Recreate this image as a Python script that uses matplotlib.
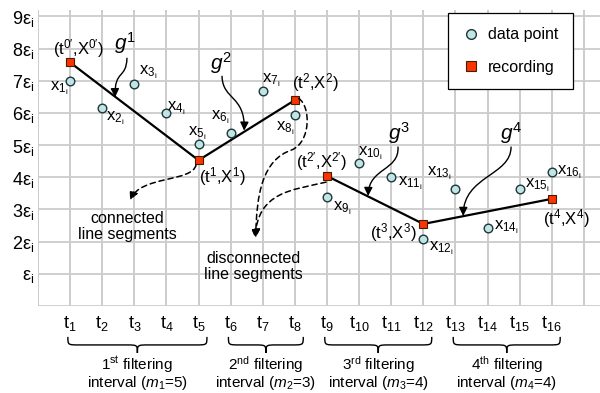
import matplotlib
matplotlib.use("Agg")
import matplotlib.pyplot as plt
from matplotlib.path import Path
from matplotlib.patches import FancyArrowPatch, PathPatch
from matplotlib.lines import Line2D

plt.rcParams['font.family'] = ['Liberation Sans', 'DejaVu Sans']
plt.rcParams['mathtext.fontset'] = 'custom'
plt.rcParams['mathtext.rm'] = 'Liberation Sans'
plt.rcParams['mathtext.it'] = 'Liberation Sans:italic'
plt.rcParams['mathtext.bf'] = 'Liberation Sans:bold'

# ---- data ----
t_idx = list(range(1, 17))
x_vals = [7.0, 6.15, 6.9, 6.0, 5.05, 5.38, 6.69, 5.93,
          3.39, 4.45, 4.0, 2.08, 3.65, 2.41, 3.65, 4.15]
seg_a_t = [1, 5, 8]          # connected segments g1, g2
seg_a_x = [7.57, 4.53, 6.4]
seg_b_t = [9, 12, 16]        # connected segments g3, g4
seg_b_x = [4.04, 2.55, 3.33]
rec_t = seg_a_t + seg_b_t
rec_x = seg_a_x + seg_b_x
y_ticks = list(range(1, 10))
y_labels = ["ε$_{\\mathrm{i}}$"] + ["%dε$_{\\mathrm{i}}$" % k for k in range(2, 10)]
x_labels = ["t$_{%d}$" % k for k in t_idx]
intervals = [(1, 5, "1", "st", 5), (6, 8, "2", "nd", 3),
             (9, 12, "3", "rd", 4), (13, 16, "4", "th", 4)]

fig = plt.figure(figsize=(6.0, 3.93), dpi=100)
ax = fig.add_axes([38/600, 87/393, 562/600, 296/393])
ax.set_xlim(0, 17.5)
ax.set_ylim(0, 9.2)
for s in ax.spines.values():
    s.set_visible(False)
ax.set_xticks(t_idx)
ax.set_xticklabels(x_labels, fontsize=13)
ax.set_yticks(y_ticks)
ax.set_yticklabels(y_labels, fontsize=13)
ax.tick_params(length=0, pad=6)
ax.tick_params(axis='y', pad=3)
for k in range(0, 18):
    ax.axvline(k, color='#c8c8c8', lw=1.3, zorder=0)
for k in range(0, 10):
    ax.axhline(k, color='#cccccc', lw=1.3, zorder=0)

# segments
ax.plot(seg_a_t, seg_a_x, color='black', lw=1.6, zorder=2)
ax.plot(seg_b_t, seg_b_x, color='black', lw=1.6, zorder=2)
# points
ax.plot(t_idx, x_vals, 'o', ls='none', ms=6.2, mfc='#c2e4e4', mec='#1c3838',
        mew=1.0, zorder=3)
ax.plot(rec_t, rec_x, 's', ls='none', ms=6.2, mfc='#ff3300', mec='#402000',
        mew=0.8, zorder=4)

# point labels
lab_pos = [(0.65, 6.77), (2.40, 5.84), (3.43, 7.27), (4.30, 6.15), (4.95, 5.37),
           (5.67, 5.87), (7.26, 7.02), (7.69, 5.53), (9.47, 3.04), (10.34, 4.75),
           (11.59, 3.82), (12.55, 1.80), (12.49, 4.13), (14.58, 2.45),
           (15.55, 3.76), (16.54, 4.16)]
for k, (px, py) in zip(t_idx, lab_pos):
    ax.text(px, py, "x$_{%d_{\\mathrm{i}}}$" % k, fontsize=12, ha='center', va='center')

rec_labels = [("(t$^{0\\prime}$,X$^{0\\prime}$)", 1.25, 8.01), ("(t$^{1}$,X$^{1}$)", 5.73, 4.01),
              ("(t$^{2}$,X$^{2}$)", 8.63, 6.93), ("(t$^{2\\prime}$,X$^{2\\prime}$)", 8.82, 4.50),
              ("(t$^{3}$,X$^{3}$)", 11.06, 2.27), ("(t$^{4}$,X$^{4}$)", 16.45, 2.73)]
for s, px, py in rec_labels:
    ax.text(px, py, s, fontsize=12, ha='center', va='center')

# g labels and arrows
g_labels = [("1", 2.71, 8.17), ("2", 5.70, 7.55), ("3", 11.25, 5.37), ("4", 14.74, 5.37)]
for n, px, py in g_labels:
    ax.text(px, py, "$\\mathit{g}^{%s}$" % n, fontsize=15, ha='center', va='center')

g_paths = [
    [(2.77, 7.70), (2.75, 7.05), (2.38, 7.35), (2.40, 6.49)],
    [(5.73, 7.14), (5.75, 6.40), (6.45, 6.55), (6.42, 5.45)],
    [(11.21, 4.94), (11.25, 4.20), (10.30, 4.30), (10.28, 3.42)],
    [(14.73, 4.94), (14.73, 4.05), (13.25, 4.05), (13.24, 2.80)],
]
codes4 = [Path.MOVETO, Path.CURVE4, Path.CURVE4, Path.CURVE4]
for pts in g_paths:
    ar = FancyArrowPatch(path=Path(pts, codes4), arrowstyle='-|>,head_length=5,head_width=2.5',
                         color='black', lw=1.0, zorder=5)
    ax.add_patch(ar)

# dashed arrows
d_paths = [
    (Path([(4.92, 4.38), (4.80, 3.85), (3.20, 4.05), (2.87, 3.29)], codes4)),
    (Path([(8.12, 6.45), (8.50, 6.20), (8.50, 5.10), (7.90, 4.85),
           (7.00, 4.55), (6.80, 3.50), (6.78, 2.12)],
          [Path.MOVETO, Path.CURVE4, Path.CURVE4, Path.CURVE4,
           Path.CURVE4, Path.CURVE4, Path.CURVE4])),
    (Path([(8.97, 3.85), (7.90, 3.60), (6.85, 3.55), (6.76, 2.12)], codes4)),
]
for p in d_paths:
    ar = FancyArrowPatch(path=p, arrowstyle='-|>,head_length=5,head_width=2.5',
                         color='black', lw=1.1, linestyle=(0, (3.5, 2.5)), zorder=5)
    ax.add_patch(ar)

ax.text(2.77, 2.48, "connected\nline segments", fontsize=11.5, ha='center', va='center',
        linespacing=1.1)
ax.text(6.70, 1.24, "disconnected\nline segments", fontsize=11.5, ha='center', va='center',
        linespacing=1.1)

# braces
def brace(x0, x1, ytop=-0.96, ytip=-1.46):
    xm = (x0 + x1) / 2
    ymid = (ytop + ytip) / 2
    r = 0.35
    verts = [(x0, ytop), (x0, ymid), (x0, ymid), (x0 + r, ymid),
             (xm - r, ymid), (xm, ymid), (xm, ymid), (xm, ytip),
             (xm, ymid), (xm, ymid), (xm + r, ymid),
             (x1 - r, ymid), (x1, ymid), (x1, ymid), (x1, ytop)]
    codes = [Path.MOVETO, Path.CURVE4, Path.CURVE4, Path.CURVE4,
             Path.LINETO, Path.CURVE4, Path.CURVE4, Path.CURVE4,
             Path.CURVE4, Path.CURVE4, Path.CURVE4,
             Path.LINETO, Path.CURVE4, Path.CURVE4, Path.CURVE4]
    ax.add_patch(PathPatch(Path(verts, codes), fill=False, lw=1.0, color='black',
                           clip_on=False))

for a, b, n, sup, m in intervals:
    x0 = a - 0.07
    x1 = b + 0.26
    brace(x0, x1)
    xm = (x0 + x1) / 2
    ax.text(xm, -1.83, "%s$^{\\mathrm{%s}}$ filtering" % (n, sup), fontsize=11,
            ha='center', va='center', clip_on=False)
    ax.text(xm, -2.40, "interval ($\\mathit{m}_{\\mathit{%s}}$=%d)" % (n, m), fontsize=11,
            ha='center', va='center', clip_on=False)

# legend
h1 = Line2D([], [], marker='o', ls='none', ms=7, mfc='#c2e4e4', mec='#1c3838', mew=1.0)
h2 = Line2D([], [], marker='s', ls='none', ms=7, mfc='#ff3300', mec='#402000', mew=0.8)
leg = ax.legend([h1, h2], ["data point", "recording"], loc='upper left',
                bbox_to_anchor=(0.730, 0.99), fontsize=11.5, fancybox=False,
                edgecolor='black', framealpha=1, borderpad=0.9, labelspacing=1.1,
                handlelength=1.0, handletextpad=0.6, borderaxespad=0)
leg.get_frame().set_linewidth(0.9)

fig.savefig("out.png", dpi=100)
